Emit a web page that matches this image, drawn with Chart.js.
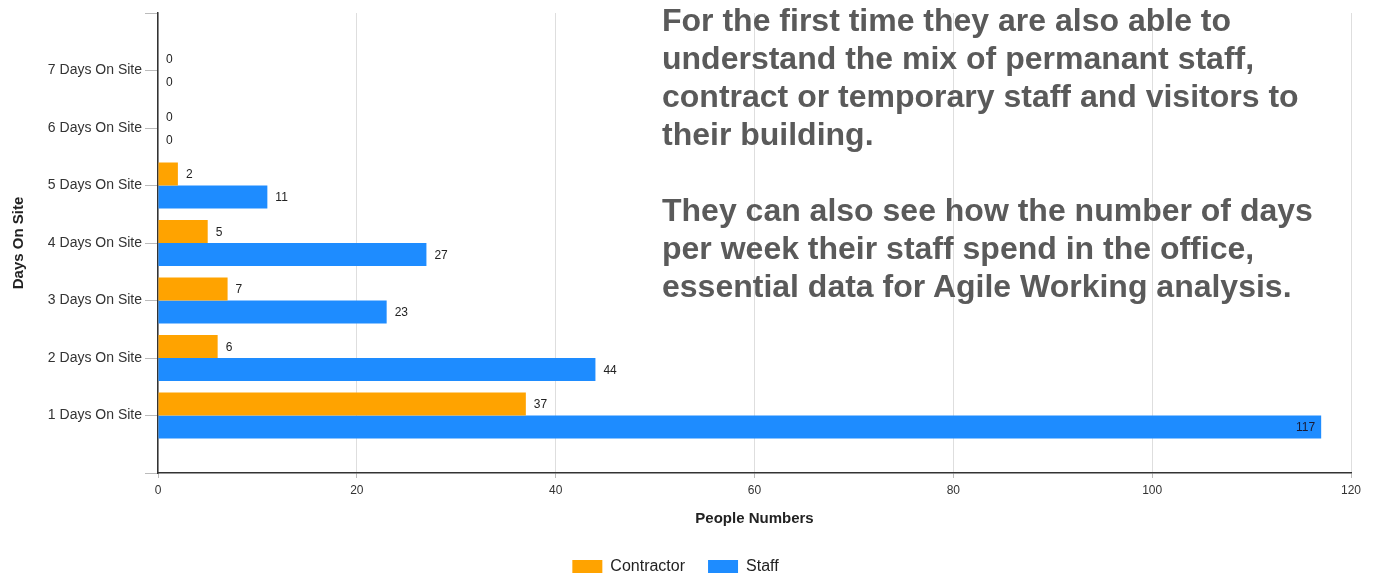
<!DOCTYPE html>
<html lang="en">

<head>
    <meta charset="UTF-8">
    <title>Days On Site</title>
    <script src="https://cdn.jsdelivr.net/npm/chart.js"></script>
    <style>
        body { margin: 0; background: #fff; }
        #wrap { position: relative; width: 1375px; height: 573px; overflow: hidden; }
        #note {
            position: absolute; left: 662px; top: 1px;
            font-family: "Liberation Sans", Arial, sans-serif;
            font-weight: bold; font-size: 32px; line-height: 38px; color: #5a5a5a;
            white-space: nowrap;
        }
    </style>
</head>

<body>
    <div id="wrap">
        <canvas id="daysChart" width="1375" height="573"></canvas>
        <div id="note">For the first time they are also able to<br>understand the mix of permanant staff,<br>contract or temporary staff and visitors to<br>their building.<br><br>They can also see how the number of days<br>per week their staff spend in the office,<br>essential data for Agile Working analysis.</div>
    </div>

    <script>
        // values
        const categories = ['7 Days On Site', '6 Days On Site', '5 Days On Site', '4 Days On Site',
            '3 Days On Site', '2 Days On Site', '1 Days On Site'];
        const contractor = [0, 0, 2, 5, 7, 6, 37];
        const staff = [0, 0, 11, 27, 23, 44, 117];
        const xTicks = [0, 20, 40, 60, 80, 100, 120];

        // blank slots top and bottom give the half band of space the original has
        const labels = [''].concat(categories, ['']);
        const pad = arr => [null].concat(arr, [null]);

        const valueLabels = {
            id: 'valueLabels',
            afterDatasetsDraw(chart) {
                const ctx = chart.ctx;
                const area = chart.chartArea;
                ctx.save();
                ctx.font = '12px "Liberation Sans", Arial, sans-serif';
                ctx.textBaseline = 'middle';
                chart.data.datasets.forEach((ds, i) => {
                    chart.getDatasetMeta(i).data.forEach((bar, j) => {
                        const v = ds.data[j];
                        if (v === null) return;
                        const txt = String(v);
                        const w = ctx.measureText(txt).width;
                        if (bar.x + 8 + w > area.right - 12) {
                            ctx.textAlign = 'right';
                            ctx.fillStyle = '#1a1a33';
                            ctx.fillText(txt, bar.x - 6, bar.y + 1);
                        } else {
                            ctx.textAlign = 'left';
                            ctx.fillStyle = '#222';
                            ctx.fillText(txt, bar.x + 8, bar.y + 1);
                        }
                    });
                });
                ctx.restore();
            }
        };

        Chart.defaults.font.family = '"Liberation Sans", Arial, sans-serif';
        Chart.defaults.color = '#333';

        new Chart(document.getElementById('daysChart'), {
            type: 'bar',
            data: {
                labels: labels,
                datasets: [{
                    label: 'Contractor',
                    data: pad(contractor),
                    backgroundColor: '#ffa300'
                }, {
                    label: 'Staff',
                    data: pad(staff),
                    backgroundColor: '#1e8cff'
                }]
            },
            options: {
                indexAxis: 'y',
                responsive: false,
                devicePixelRatio: 1,
                animation: false,
                categoryPercentage: 0.8,
                barPercentage: 1.0,
                layout: { padding: { top: 13, right: 24, left: 0, bottom: -11.5 } },
                plugins: {
                    tooltip: { enabled: false },
                    legend: {
                        position: 'bottom',
                        labels: {
                            boxWidth: 30, boxHeight: 13, padding: 23,
                            color: '#222', font: { size: 16 }
                        }
                    }
                },
                scales: {
                    x: {
                        min: 0, max: 120,
                        afterBuildTicks: s => { s.ticks = xTicks.map(v => ({ value: v })); },
                        afterFit: s => { s.height = 62.5; },
                        grid: { color: '#dedede', tickLength: 5, tickColor: '#bbb' },
                        border: { color: '#333', width: 1.5 },
                        ticks: { padding: 5, color: '#333', font: { size: 12 } },
                        title: {
                            display: true, text: 'People Numbers', color: '#222',
                            font: { size: 15, weight: 'bold' }, padding: { top: 4, bottom: 8 }
                        }
                    },
                    y: {
                        offset: false,
                        afterFit: s => { s.width = 158; },
                        grid: { offset: false, drawOnChartArea: false, tickLength: 13, color: '#bbb' },
                        border: { color: '#333', width: 1.5 },
                        ticks: { padding: 3, color: '#333', font: { size: 14 }, autoSkip: false },
                        title: {
                            display: true, text: 'Days On Site', color: '#222',
                            font: { size: 15, weight: 'bold' }, padding: { top: 10, bottom: 0 }
                        }
                    }
                }
            },
            plugins: [valueLabels]
        });
    </script>

</body>

</html>
